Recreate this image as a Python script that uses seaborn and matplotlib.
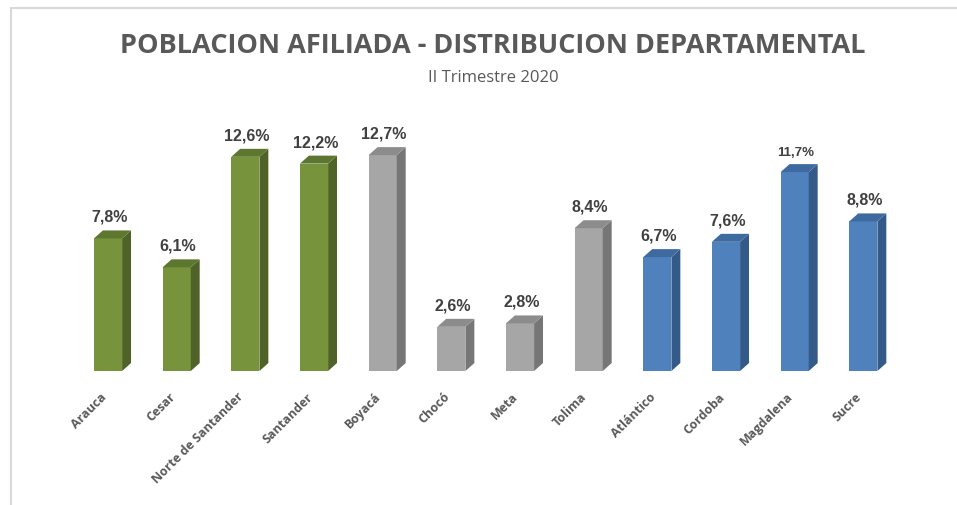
import matplotlib
matplotlib.use("Agg")
import matplotlib.pyplot as plt
from matplotlib.patches import Polygon, Rectangle
import seaborn as sns
import pandas as pd

departamentos = ["Arauca", "Cesar", "Norte de Santander", "Santander", "Boyacá",
                 "Chocó", "Meta", "Tolima", "Atlántico", "Cordoba", "Magdalena", "Sucre"]
porcentajes = [7.8, 6.1, 12.6, 12.2, 12.7, 2.6, 2.8, 8.4, 6.7, 7.6, 11.7, 8.8]
grupos = ["g1"] * 4 + ["g2"] * 4 + ["g3"] * 4
etiquetas = ["7,8%", "6,1%", "12,6%", "12,2%", "12,7%", "2,6%", "2,8%", "8,4%",
             "6,7%", "7,6%", "11,7%", "8,8%"]

front = {"g1": "#77933C", "g2": "#A6A6A6", "g3": "#4F81BD"}
side = {"g1": "#4F6228", "g2": "#767676", "g3": "#335A88"}
top = {"g1": "#5E7730", "g2": "#8C8C8C", "g3": "#3F6AA0"}

df = pd.DataFrame({"dep": departamentos, "val": porcentajes, "grp": grupos})

sns.set_theme(style="white")
plt.rcParams["font.family"] = ["Open Sans", "DejaVu Sans"]

fig = plt.figure(figsize=(9.57, 5.05), dpi=100)
ax = fig.add_axes([0.077, 0.2653, 0.861, 0.4713])

sns.barplot(data=df, x="dep", y="val", hue="grp", palette=front, dodge=False,
            width=0.41, legend=False, ax=ax, saturation=1, linewidth=0)

dx, dy = 0.13, 0.47
for p, g, lab in zip(ax.patches, grupos, etiquetas):
    x0, w, h = p.get_x(), p.get_width(), p.get_height()
    ax.add_patch(Polygon([(x0 + w, 0), (x0 + w + dx, dy), (x0 + w + dx, h + dy), (x0 + w, h)],
                         closed=True, facecolor=side[g], edgecolor="none", zorder=3))
    ax.add_patch(Polygon([(x0, h), (x0 + w, h), (x0 + w + dx, h + dy), (x0 + dx, h + dy)],
                         closed=True, facecolor=top[g], edgecolor="none", zorder=3))
    fs = 9.5 if lab == "11,7%" else 11.5
    ax.annotate(lab, (x0 + w / 2 + 0.02, h + dy), xytext=(0, 4), textcoords="offset points",
                ha="center", va="bottom", fontsize=fs, fontweight="bold", color="#404040",
                family=["Liberation Sans", "DejaVu Sans"])

ax.set_xlim(-0.5, 11.5)
ax.set_ylim(0, 14)
ax.set_xlabel("")
ax.set_ylabel("")
ax.set_yticks([])
ax.set_xticks([i - 0.12 for i in range(len(departamentos))], departamentos)
ax.tick_params(axis="x", length=0, pad=14)
for t in ax.get_xticklabels():
    t.set_rotation(45)
    t.set_ha("right")
    t.set_rotation_mode("anchor")
    t.set_fontsize(9)
    t.set_fontweight("bold")
    t.set_color("#595959")
for s in ax.spines.values():
    s.set_visible(False)

fig.patches.append(Rectangle((11 / 957, -0.1), 1.2, 1 - 8 / 505 + 0.1, transform=fig.transFigure,
                             fill=False, edgecolor="#D9D9D9", linewidth=1.5))

fig.text(493 / 957, 1 - 46 / 505, "POBLACION AFILIADA - DISTRIBUCION DEPARTAMENTAL",
         ha="center", va="center", fontsize=19.5, fontweight="bold", color="#595959",
         family=["Open Sans", "DejaVu Sans"])
fig.text(493 / 957, 1 - 78 / 505, "II Trimestre 2020", ha="center", va="center",
         fontsize=12, color="#595959", family=["Open Sans", "DejaVu Sans"])

fig.savefig("out.png", dpi=100)
